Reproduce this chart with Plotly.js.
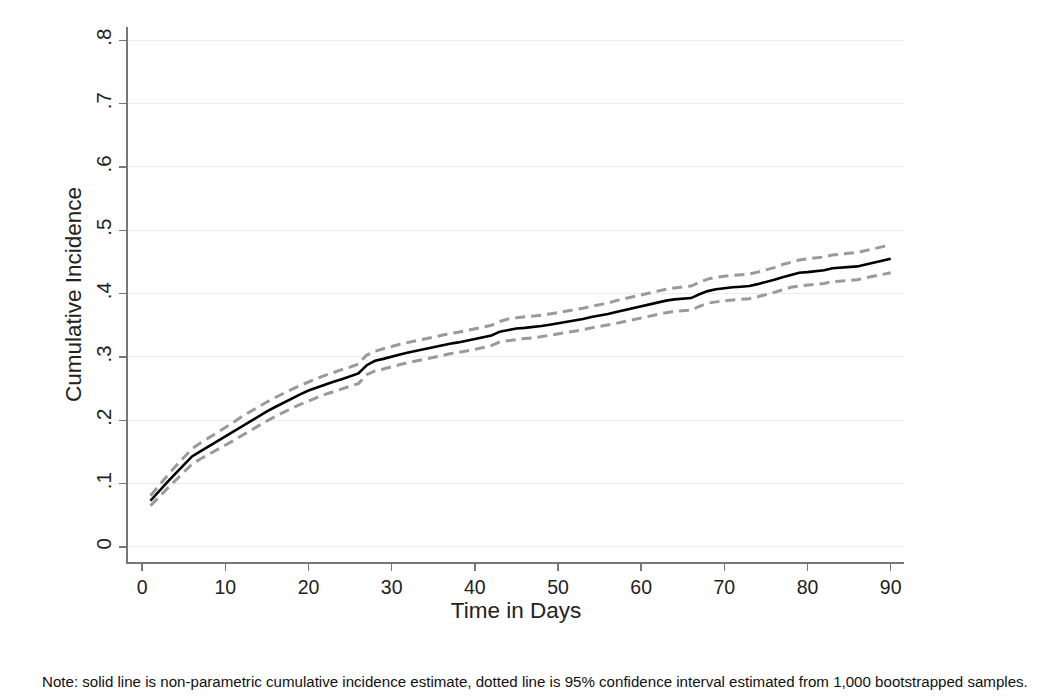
<!DOCTYPE html>
<html>
<head>
<meta charset="utf-8">
<script src="https://cdn.plot.ly/plotly-3.0.1.min.js"></script>
<style>html,body{margin:0;padding:0;background:#fff;}#chart{width:1050px;height:698px;}</style>
</head>
<body>
<div id="chart"></div>
<script>
const days = Array.from({length: 90}, (_, i) => i + 1);
const estimate = [.073,.088,.102,.116,.130,.143,.151,.159,.166,.174,.182,.191,.199,.207,.214,.221,.228,.234,.241,.247,
  .252,.257,.261,.265,.269,.274,.287,.294,.297,.301,.304,.307,.310,.313,.316,.318,.321,.323,.326,.328,
  .331,.334,.340,.343,.345,.346,.347,.349,.351,.353,.355,.358,.360,.363,.365,.368,.371,.374,.378,.381,
  .384,.387,.389,.391,.392,.393,.399,.404,.407,.409,.410,.411,.412,.415,.418,.422,.426,.430,.433,.434,
  .435,.437,.440,.441,.441,.443,.446,.449,.452,.455];
const upper = [.081,.097,.112,.127,.141,.155,.164,.172,.180,.188,.197,.206,.214,.222,.229,.236,.243,.249,.255,.261,
  .266,.271,.276,.280,.284,.289,.303,.309,.313,.317,.320,.323,.326,.329,.332,.334,.337,.339,.342,.344,
  .347,.350,.356,.360,.362,.363,.364,.366,.368,.370,.372,.375,.377,.380,.382,.385,.389,.392,.396,.399,
  .402,.405,.407,.409,.411,.412,.418,.423,.426,.428,.429,.430,.431,.434,.437,.441,.446,.450,.453,.455,
  .456,.458,.461,.462,.463,.465,.468,.471,.474,.477];
const lower = [.065,.079,.092,.105,.118,.131,.139,.146,.153,.160,.168,.176,.184,.192,.199,.206,.213,.219,.225,.231,
  .236,.241,.245,.249,.253,.258,.272,.278,.281,.285,.288,.291,.294,.297,.300,.302,.305,.307,.309,.312,
  .315,.318,.324,.326,.328,.329,.330,.332,.334,.336,.338,.341,.343,.346,.348,.351,.353,.356,.359,.362,
  .365,.368,.370,.372,.373,.374,.380,.385,.387,.389,.390,.391,.392,.395,.398,.402,.406,.410,.412,.413,
  .414,.416,.419,.420,.420,.422,.425,.428,.431,.433];
const xTicks = [0,10,20,30,40,50,60,70,80,90];
const yTicks = [0,.1,.2,.3,.4,.5,.6,.7,.8];
const yTickText = ['0','.1','.2','.3','.4','.5','.6','.7','.8'];
const noteText = 'Note: solid line is non-parametric cumulative incidence estimate, dotted line is 95% confidence interval estimated from 1,000 bootstrapped samples.';

const ciStyle = {color: '#9a9a9a', width: 3, dash: '10px,6px'};
const traces = [
  {x: days, y: upper, mode: 'lines', line: ciStyle, hoverinfo: 'skip'},
  {x: days, y: lower, mode: 'lines', line: ciStyle, hoverinfo: 'skip'},
  {x: days, y: estimate, mode: 'lines', line: {color: '#000', width: 2.6}}
];
const font = {family: 'Liberation Sans, Arial, sans-serif', color: '#222'};
const layout = {
  width: 1050, height: 698,
  paper_bgcolor: '#fff', plot_bgcolor: '#fff',
  showlegend: false,
  margin: {l: 128, r: 146, t: 27, b: 136},
  font: font,
  xaxis: {
    range: [-1.7, 91.6], tickvals: xTicks, ticktext: xTicks.map(String),
    showgrid: false, zeroline: false, showline: true, linecolor: '#777', linewidth: 2,
    ticks: 'outside', ticklen: 7, tickwidth: 1.5, tickcolor: '#777',
    tickfont: {size: 19.5, family: font.family, color: '#222'},
    title: {text: 'Time in Days', font: {size: 22.5, family: font.family, color: '#222'}, standoff: 0}
  },
  yaxis: {
    range: [-0.0237, 0.821], tickvals: yTicks, ticktext: yTickText, tickangle: -90,
    showgrid: true, gridcolor: '#ececec', gridwidth: 1, zeroline: false,
    showline: true, linecolor: '#777', linewidth: 2,
    ticks: 'outside', ticklen: 7, tickwidth: 1.5, tickcolor: '#777',
    tickfont: {size: 20.5, family: font.family, color: '#222'},
    title: {text: 'Cumulative Incidence', font: {size: 22.5, family: font.family, color: '#222'}, standoff: 4}
  },
  annotations: [{
    text: noteText, xref: 'paper', yref: 'paper', x: (40 - 128) / 776, y: (698 - 136 - 681) / 535,
    xanchor: 'left', yanchor: 'middle', showarrow: false,
    font: {size: 15.1, family: font.family, color: '#111'}
  }]
};
Plotly.newPlot('chart', traces, layout, {staticPlot: true});
</script>
</body>
</html>
